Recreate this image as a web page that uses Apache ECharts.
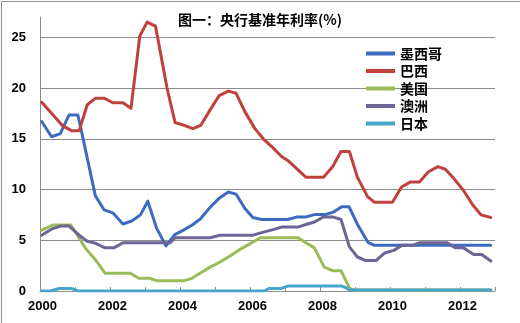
<!DOCTYPE html>
<html>
<head>
<meta charset="utf-8">
<script src="https://cdn.jsdelivr.net/npm/echarts@6/dist/echarts.min.js"></script>
<style>
html,body{margin:0;padding:0;background:#fff;}
#c{width:520px;height:323px;}
</style>
</head>
<body>
<div id="c"></div>
<script>
const titleText = '图一：央行基准年利率(%)';
const seriesNames = ['墨西哥', '巴西', '美国', '澳洲', '日本'];

const mexicoX = [2000.05, 2000.33, 2000.58, 2000.83, 2001.08, 2001.17, 2001.58, 2001.83, 2002.08, 2002.37, 2002.62, 2002.87, 2003.08, 2003.33, 2003.6, 2003.85, 2004.1, 2004.35, 2004.58, 2004.85, 2005.12, 2005.38, 2005.6, 2005.85, 2006.08, 2006.33, 2007.08, 2007.35, 2007.6, 2007.87, 2008.17, 2008.4, 2008.62, 2008.83, 2009.08, 2009.37, 2009.55, 2012.88];
const mexicoY = [16.7, 15.2, 15.5, 17.35, 17.35, 16.0, 9.4, 8.0, 7.7, 6.6, 6.9, 7.5, 8.85, 6.2, 4.45, 5.55, 6.0, 6.5, 7.1, 8.2, 9.15, 9.75, 9.55, 8.15, 7.25, 7.05, 7.05, 7.3, 7.3, 7.55, 7.55, 7.8, 8.3, 8.3, 6.5, 4.8, 4.5, 4.5];

const brazilX = [2000.05, 2000.36, 2000.64, 2000.9, 2001.12, 2001.35, 2001.59, 2001.83, 2002.08, 2002.37, 2002.6, 2002.85, 2003.06, 2003.3, 2003.63, 2003.86, 2004.1, 2004.37, 2004.6, 2004.86, 2005.12, 2005.38, 2005.6, 2005.85, 2006.14, 2006.38, 2006.66, 2006.9, 2007.1, 2007.35, 2007.6, 2008.1, 2008.36, 2008.6, 2008.84, 2009.07, 2009.36, 2009.55, 2010.07, 2010.33, 2010.59, 2010.84, 2011.1, 2011.37, 2011.58, 2011.82, 2012.1, 2012.36, 2012.6, 2012.88];
const brazilY = [18.6, 17.4, 16.3, 15.8, 15.8, 18.35, 19.0, 19.0, 18.55, 18.55, 18.0, 25.1, 26.5, 26.1, 20.0, 16.6, 16.35, 16.0, 16.35, 17.85, 19.25, 19.7, 19.5, 17.7, 16.0, 15.0, 14.1, 13.25, 12.8, 12.0, 11.2, 11.2, 12.25, 13.75, 13.75, 11.2, 9.3, 8.75, 8.75, 10.25, 10.75, 10.75, 11.75, 12.25, 12.0, 11.1, 9.9, 8.5, 7.5, 7.25];

const usaX = [2000.05, 2000.36, 2000.88, 2001.07, 2001.3, 2001.6, 2001.86, 2002.58, 2002.82, 2003.15, 2003.34, 2004.1, 2004.34, 2004.57, 2004.86, 2005.14, 2005.43, 2005.71, 2006.0, 2006.3, 2007.37, 2007.6, 2007.84, 2008.12, 2008.36, 2008.6, 2008.84, 2008.95, 2012.88];
const usaY = [6.0, 6.5, 6.5, 5.5, 4.2, 3.0, 1.75, 1.75, 1.25, 1.25, 1.0, 1.0, 1.25, 1.75, 2.35, 2.85, 3.45, 4.1, 4.65, 5.25, 5.25, 4.75, 4.25, 2.35, 2.0, 2.0, 0.3, 0.1, 0.1];

const australiaX = [2000.05, 2000.36, 2000.6, 2000.83, 2001.12, 2001.35, 2001.59, 2001.86, 2002.11, 2002.37, 2003.72, 2003.86, 2004.86, 2005.14, 2006.09, 2006.33, 2006.66, 2006.9, 2007.37, 2007.6, 2007.84, 2008.1, 2008.36, 2008.6, 2008.84, 2009.07, 2009.31, 2009.6, 2009.85, 2010.11, 2010.35, 2010.63, 2010.84, 2011.63, 2011.87, 2012.1, 2012.39, 2012.62, 2012.88];
const australiaY = [5.5, 6.15, 6.4, 6.4, 5.5, 4.9, 4.7, 4.25, 4.25, 4.75, 4.75, 5.25, 5.25, 5.5, 5.5, 5.75, 6.05, 6.3, 6.3, 6.55, 6.8, 7.3, 7.3, 7.05, 4.35, 3.35, 3.0, 3.0, 3.75, 4.0, 4.5, 4.5, 4.75, 4.75, 4.25, 4.25, 3.6, 3.6, 2.95];

const japanX = [2000.05, 2000.3, 2000.55, 2000.9, 2001.08, 2006.4, 2006.55, 2006.88, 2007.1, 2008.6, 2008.75, 2008.84, 2012.88];
const japanY = [0, 0, 0.25, 0.25, 0, 0, 0.25, 0.25, 0.5, 0.5, 0.3, 0.1, 0.1];

const yTicks = [0, 5, 10, 15, 20, 25];
const xLabelYears = [2000, 2002, 2004, 2006, 2008, 2010, 2012];

const colors = ['#3D6BBF', '#C0403C', '#9BBB59', '#6E6496', '#46A6C9'];
const xs = [mexicoX, brazilX, usaX, australiaX, japanX];
const ys = [mexicoY, brazilY, usaY, australiaY, japanY];

function zip(a, b) { return a.map((v, i) => [v, b[i]]); }

const fontFam = '"Liberation Sans", "Noto Sans CJK SC", sans-serif';
const cjkFam = '"Noto Sans CJK SC", "Liberation Sans", sans-serif';

const chart = echarts.init(document.getElementById('c'), null, {renderer: 'canvas'});
chart.setOption({
  animation: false,
  backgroundColor: '#fff',
  color: colors,
  title: {
    text: titleText,
    left: 'center',
    top: 13,
    padding: 0,
    textStyle: {fontFamily: cjkFam, fontSize: 14, fontWeight: 'bold', color: '#000'}
  },
  legend: {
    orient: 'vertical',
    left: 361,
    top: 41,
    itemWidth: 29,
    itemHeight: 4,
    itemGap: 2.5,
    icon: 'rect',
    data: seriesNames,
    textStyle: {fontFamily: cjkFam, fontSize: 14, fontWeight: 'bold', color: '#000', lineHeight: 15}
  },
  graphic: [
    {type: 'line', shape: {x1: 1.5, y1: 1.5, x2: 520, y2: 1.5}, style: {stroke: '#8c8c8c', lineWidth: 1}, silent: true},
    {type: 'line', shape: {x1: 1.5, y1: 1.5, x2: 1.5, y2: 323}, style: {stroke: '#8c8c8c', lineWidth: 1}, silent: true}
  ],
  grid: {left: 40, right: 25, top: 17, bottom: 32, containLabel: false},
  xAxis: {
    type: 'value',
    min: 2000,
    max: 2013,
    interval: 1,
    axisLine: {show: true, lineStyle: {color: '#8c8c8c', width: 1}},
    axisTick: {show: true, inside: true, length: 4, lineStyle: {color: '#8c8c8c'}},
    splitLine: {show: false},
    axisLabel: {
      margin: 9,
      padding: [0, 0, 0, 5],
      fontFamily: fontFam, fontSize: 13, fontWeight: 'bold', color: '#000',
      formatter: function (v) { return xLabelYears.indexOf(v) >= 0 ? String(v) : ''; }
    }
  },
  yAxis: {
    type: 'value',
    min: 0,
    max: 27,
    interval: 5,
    axisLine: {show: true, lineStyle: {color: '#8c8c8c', width: 1}},
    axisTick: {show: false},
    splitLine: {show: true, lineStyle: {color: ['#8c8c8c', '#8c8c8c', '#8c8c8c', '#8c8c8c', '#8c8c8c', '#8c8c8c', 'rgba(0,0,0,0)'], width: 1}},
    axisLabel: {
      margin: 14,
      fontFamily: fontFam, fontSize: 13, fontWeight: 'bold', color: '#000',
      formatter: function (v) { return yTicks.indexOf(v) >= 0 ? String(v) : ''; }
    }
  },
  series: seriesNames.map((n, i) => ({
    name: n,
    type: 'line',
    data: zip(xs[i], ys[i]),
    showSymbol: false,
    symbol: 'none',
    lineStyle: {width: 3, color: colors[i], cap: 'round', join: 'round'},
    itemStyle: {color: colors[i]}
  }))
});
</script>
</body>
</html>
